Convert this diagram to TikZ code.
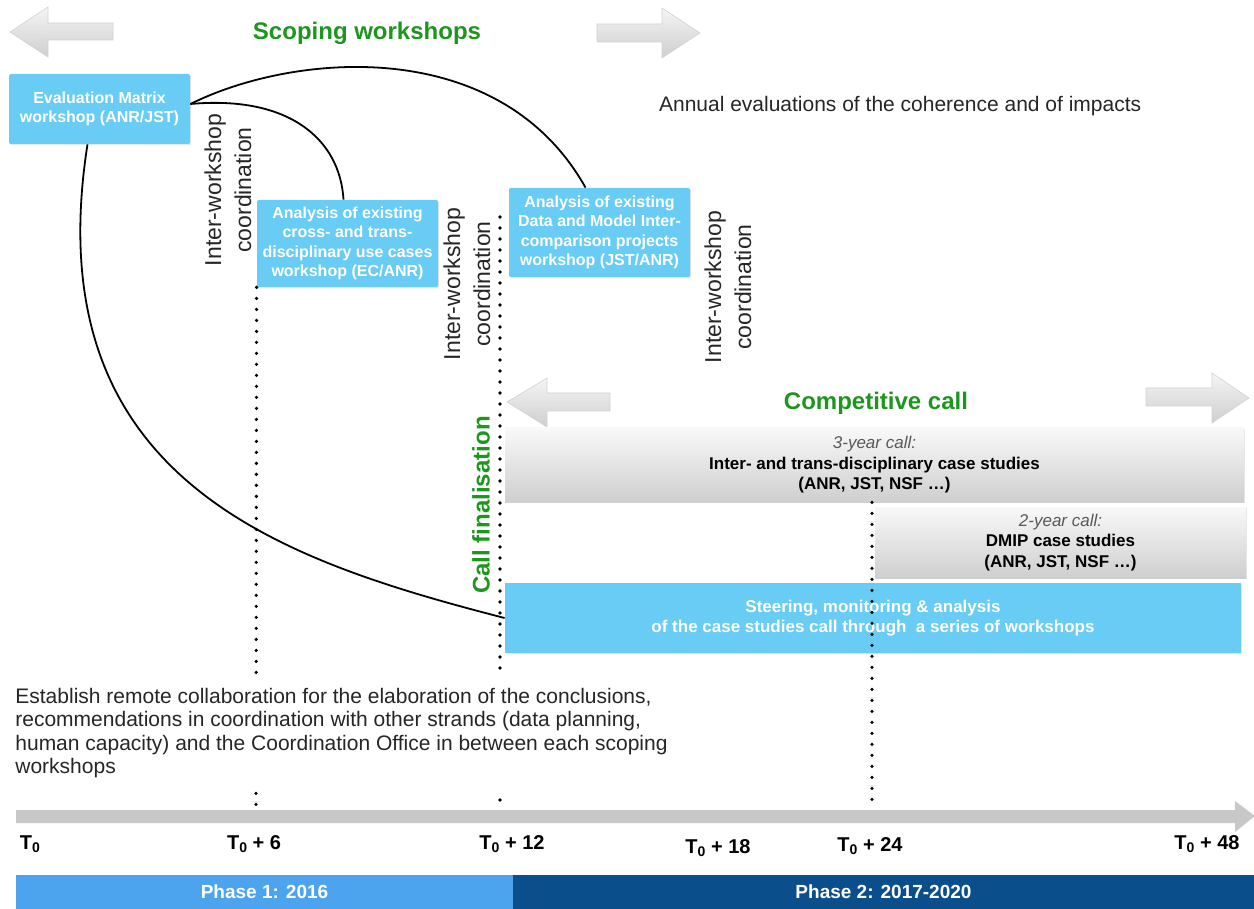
\documentclass[tikz,border=0pt]{standalone}
\usepackage{fontspec}
\setmainfont{Liberation Sans}
\usepackage{xcolor}
\usetikzlibrary{shadows}

\definecolor{boxblue}{RGB}{104,204,244}
\definecolor{callgreen}{RGB}{28,150,28}
\definecolor{phaseone}{RGB}{76,164,238}
\definecolor{phasetwo}{RGB}{10,78,140}
\definecolor{linegray}{RGB}{200,200,200}

\newcommand{\tzero}{T{\fontsize{7}{7}\selectfont\raisebox{-1.2pt}{0}}}

\tikzset{
  wsbox/.style={fill=boxblue, text=white, font=\bfseries\fontsize{8}{9.75}\selectfont,
    align=center, inner sep=0pt, rounded corners=1pt,
    drop shadow={opacity=0.2, shadow xshift=0.6pt, shadow yshift=-0.6pt}},
  callbox/.style={top color=gray!5, bottom color=gray!38, font=\bfseries\fontsize{8.5}{10.3}\selectfont,
    align=center, inner sep=0pt,
    drop shadow={opacity=0.2, shadow xshift=0.6pt, shadow yshift=-0.6pt}},
  phasebar/.style={text=white, font=\bfseries\fontsize{9.5}{11}\selectfont, inner sep=0pt, minimum height=17pt},
  greenlabel/.style={text=callgreen, font=\bfseries\fontsize{12}{14}\selectfont},
  coordlabel/.style={rotate=90, align=center, text=black!85, font=\fontsize{11.5}{15}\selectfont},
  timelabel/.style={font=\bfseries\fontsize{10}{12}\selectfont},
  blockarrow/.style={top color=gray!8, bottom color=gray!38, draw=gray!35, line width=0.3pt},
  link/.style={line width=0.9pt},
  dotline/.style={line width=1.8pt, dash pattern=on 0pt off 5.5pt, line cap=round}
}

\begin{document}
\begin{tikzpicture}[x=0.5pt, y=-0.5pt]
  \useasboundingbox (0,0) rectangle (1254,909);

  % block arrows, scoping workshops
  \shade[blockarrow] (10,32) -- (48,7) -- (48,23) -- (113,23) -- (113,40) -- (48,40) -- (48,57) -- cycle;
  \shade[blockarrow] (597,24) -- (662,24) -- (662,8) -- (700,33) -- (662,58) -- (662,42) -- (597,42) -- cycle;
  \node[greenlabel] (scoping) at (367,33) {Scoping workshops};

  % block arrows, competitive call
  \shade[blockarrow] (507,402) -- (547,378) -- (547,393) -- (610,393) -- (610,411) -- (547,411) -- (547,427) -- cycle;
  \shade[blockarrow] (1146,388) -- (1212,388) -- (1212,373) -- (1249,398) -- (1212,423) -- (1212,406) -- (1146,406) -- cycle;
  \node[greenlabel] (competitive) at (876,403) {Competitive call};

  \node[anchor=west, text=black!85, font=\fontsize{10.5}{12}\selectfont] (annual) at (652,106)
    {Annual evaluations of the coherence and of impacts};

  % workshops
  \node[wsbox, minimum width=90.5pt, minimum height=35pt] (eval) at (99.5,109)
    {Evaluation Matrix\\workshop (ANR/JST)};
  \node[wsbox, minimum width=90.5pt, minimum height=43.5pt] (usecase) at (347.5,243.5)
    {Analysis of existing\\cross- and trans-\\disciplinary use cases\\workshop (EC/ANR)};
  \node[wsbox, minimum width=90.5pt, minimum height=44.5pt] (dmip) at (599.5,232.5)
    {Analysis of existing\\Data and Model Inter-\\comparison projects\\workshop (JST/ANR)};

  \node[coordlabel] (coordA) at (228,190) {Inter-workshop\\coordination};
  \node[coordlabel] (coordB) at (467,284) {Inter-workshop\\coordination};
  \node[coordlabel] (coordC) at (728,287) {Inter-workshop\\coordination};
  \node[greenlabel, rotate=90] (finalise) at (481,505) {Call finalisation};

  % calls
  \node[callbox, minimum width=369.5pt, minimum height=37pt] (call3) at (874.5,465)
    {{\mdseries\itshape\color{black!65}3-year call:}\\Inter- and trans-disciplinary case studies\\(ANR, JST, NSF \ldots)};
  \node[callbox, minimum width=185.5pt, minimum height=35.5pt] (call2) at (1060.5,542.5)
    {{\mdseries\itshape\color{black!65}2-year call:}\\DMIP case studies\\(ANR, JST, NSF \ldots)};
  \node[wsbox, rounded corners=0pt, font=\bfseries\fontsize{8.5}{10.3}\selectfont,
        minimum width=368pt, minimum height=35pt] (steer) at (873,618)
    {Steering, monitoring \& analysis\\of the case studies call through\ \ a series of workshops};

  % links
  \draw[link] ([yshift=2.5pt]eval.east) .. controls (290,95) and (340,140) .. ([xshift=-2pt]usecase.north);
  \draw[link] ([yshift=2.5pt]eval.east) .. controls (295,52) and (500,35) .. ([xshift=-7pt]dmip.north);
  \draw[link] ([xshift=-6pt]eval.south) .. controls (35,480) and (280,560) .. (steer.west);

  % time marks
  \coordinate (m6) at (256,806);
  \coordinate (m12top) at (500,217);
  \coordinate (m12) at (500,803);
  \coordinate (m24) at (872,804);
  \draw[dotline] (usecase.south west) -- (m6);
  \draw[dotline] (m12top) -- (m12);
  \draw[dotline] (call3.south -| m24) -- (m24);

  \node[anchor=west, fill=white, align=left, inner xsep=1pt, inner ysep=6.5pt,
        text=black!85, font=\fontsize{10.5}{11.75}\selectfont] (remote) at (13,733)
    {Establish remote collaboration for the elaboration of the conclusions,\\
     recommendations in coordination with other strands (data planning,\\
     human capacity) and the Coordination Office in between each scoping\\
     workshops};

  % timeline
  \fill[linegray] (16,810) -- (1235,810) -- (1235,801) -- (1255,816) -- (1235,832) -- (1235,823) -- (16,823) -- cycle;
  \node[timelabel] (t0) at (30,844) {\tzero};
  \node[timelabel] (t6) at (254,844) {\tzero{} + 6};
  \node[timelabel] (t12) at (512,844) {\tzero{} + 12};
  \node[timelabel] (t18) at (718,848) {\tzero{} + 18};
  \node[timelabel] (t24) at (870,846) {\tzero{} + 24};
  \node[timelabel] (t48) at (1207,844) {\tzero{} + 48};

  % phases
  \node[phasebar, fill=phaseone, minimum width=248.5pt] (ph1) at (264.5,892) {Phase 1: 2016};
  \node[phasebar, fill=phasetwo, minimum width=370.5pt] (ph2) at (883.5,892) {Phase 2: 2017-2020};
\end{tikzpicture}
\end{document}
